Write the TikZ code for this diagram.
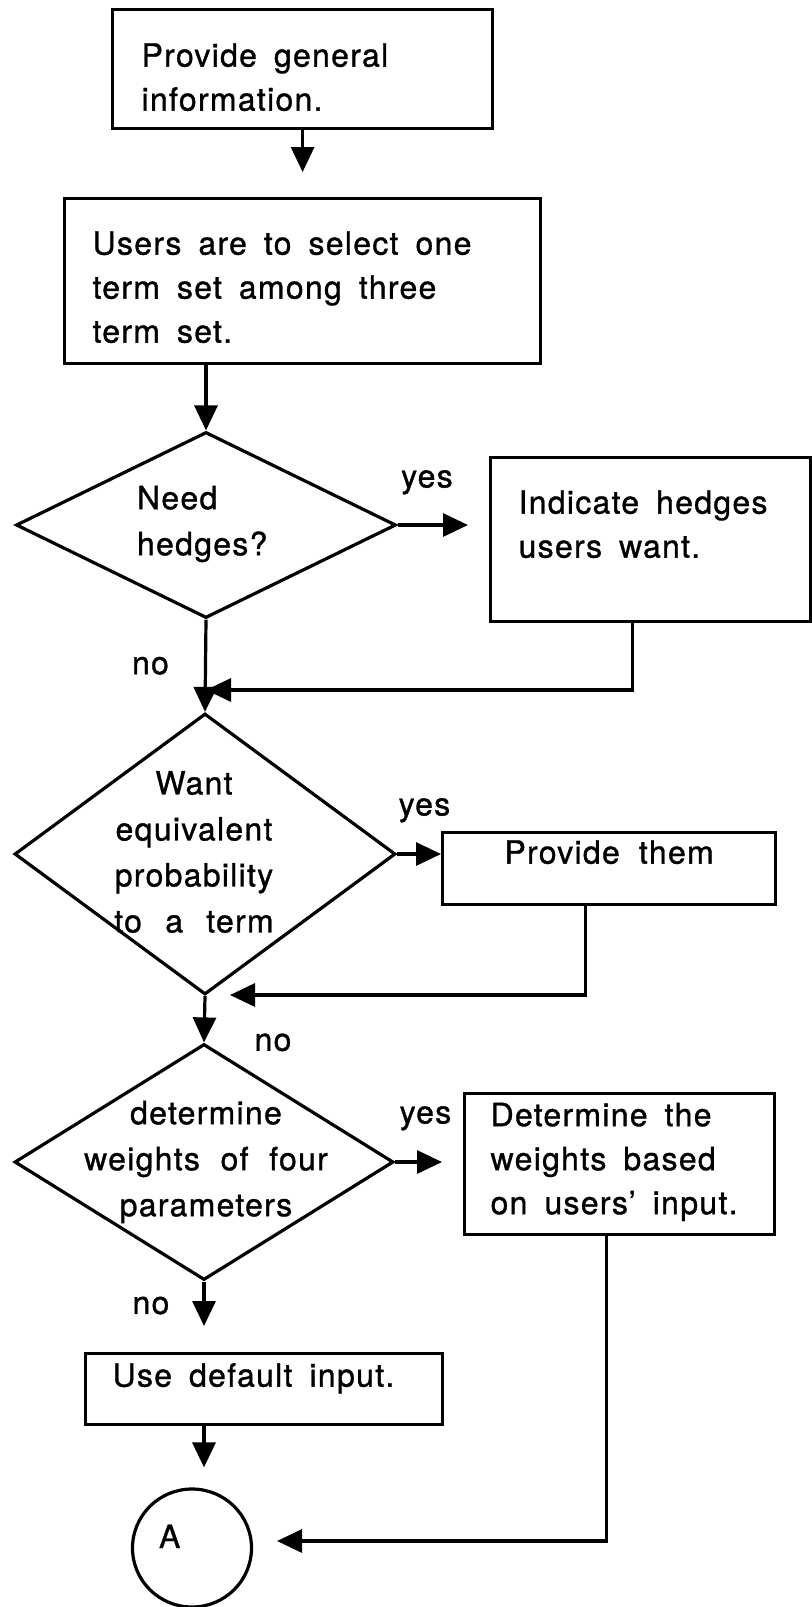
\documentclass[tikz,border=0pt]{standalone}
\usepackage{fontspec}
\setmainfont{TeX Gyre Heros}[LetterSpace=4,FakeBold=1]
\usepackage{tikz}
\usetikzlibrary{arrows.meta,positioning,shapes.geometric}
\newcommand{\flowfont}{\fontsize{16}{22}\selectfont}
\newcommand{\askfont}{\fontsize{16}{23}\selectfont}
\newcommand{\widespace}{\spaceskip=8.5pt plus 2pt minus 1pt\relax}
\tikzset{
  process/.style={draw, line width=1.6pt, anchor=north west, align=left,
    inner ysep=0pt, font=\flowfont, execute at begin node=\widespace},
  decision/.style={draw, line width=1.6pt, diamond, inner sep=0pt},
  question/.style={inner sep=0pt, font=\askfont, execute at begin node=\widespace},
  connector/.style={draw, line width=1.6pt, ellipse, inner sep=0pt,
    minimum width=59.5pt, minimum height=59pt, font=\flowfont},
  wire/.style={-{Triangle[length=12.5pt, width=11.5pt]}, line width=1.6pt},
  answer/.style={inner sep=0pt, font=\flowfont}
}

\begin{document}
\begin{tikzpicture}[x=0.5pt, y=-0.5pt]
  \useasboundingbox (0,0) rectangle (811,1607);
  % main column
  \node[process, inner xsep=14.5pt, text width=161pt, text height=28.5pt, text depth=31pt]
    (info) at (111,8) {Provide general\\information.};
  \node[process, inner xsep=14pt, text width=210pt, text height=28pt, text depth=54.5pt]
    (termset) at (63,197) {Users are to select one\\term set among three\\term set.};
  \node[decision, minimum width=190pt, minimum height=93pt] (hedges) at (206,525) {};
  \node[question, align=left, text width=70pt] (hedgesq) at (207,524) {Need\\hedges?};
  \node[decision, minimum width=190.5pt, minimum height=140.5pt] (equiv) at (205,854) {};
  \node[question, align=center, text width=180pt] (equivq) at (194,852)
    {Want\\equivalent\\probability\\to a term};
  \node[decision, minimum width=189.5pt, minimum height=118pt] (weights) at (204,1162) {};
  \node[question, align=center, text width=180pt] (weightsq) at (206,1162)
    {determine\\weights of four\\parameters};
  \node[process, inner xsep=13.5pt, text width=151.5pt, text height=16.5pt, text depth=19pt]
    (defaultbox) at (84,1352) {Use default input.};
  \node[connector, align=left, text width=33pt, text height=11.8pt, text depth=11.8pt]
    (connA) at (192,1548) {A};
  % side boxes
  \node[process, inner xsep=14pt, text width=132pt, text height=28pt, text depth=54pt]
    (hedgebox) at (489,456) {Indicate hedges\\users want.};
  \node[process, align=center, inner xsep=14pt, text width=138.5pt, text height=15.5pt, text depth=20.5pt]
    (providebox) at (441,831) {Provide them};
  \node[process, inner xsep=13pt, text width=129pt, text height=16.25pt, text depth=54.25pt]
    (weightbox) at (463,1092) {Determine the\\weights based\\on users' input.};
  \coordinate (merge1) at (206,690);
  \coordinate (merge2) at (230,995);
  \coordinate (merge3) at (277,1541);

  % connectors
  \draw[wire, shorten >=12.5pt] (info.south) -- (termset.north);
  \draw[wire] (termset.south -| hedges.north) -- (hedges.north);
  \draw[wire, shorten >=10.5pt] (hedges.east) -- (hedges.east -| hedgebox.west)
    node[answer, pos=0, above right=14.5pt and 1pt] (yes1) {yes};
  \draw[wire] ([xshift=-9pt]hedgebox.south) |- (merge1);
  \draw[wire] (hedges.south) -- (equiv.north)
    node[answer, pos=0.5, left=17.5pt] (no1) {no};
  \draw[wire] (equiv.east) -- (equiv.east -| providebox.west)
    node[answer, pos=0, above right=15pt and 0pt] (yes2) {yes};
  \draw[wire] ([xshift=-11.75pt]providebox.south) |- (merge2);
  \draw[wire] (equiv.south) -- (weights.north)
    node[answer, pos=1, right=24.5pt] (no2) {no};
  \draw[wire, shorten >=10.5pt] (weights.east) -- (weights.east -| weightbox.west)
    node[answer, pos=0, above right=15pt and 1.5pt] (yes3) {yes};
  \draw[wire] ([xshift=-6.5pt]weightbox.south) |- (merge3);
  \draw[wire, shorten >=13pt] (weights.south) -- (defaultbox.north -| weights.south)
    node[answer, pos=0.34, left=16.5pt] (no3) {no};
  \draw[wire, shorten >=10pt] (defaultbox.south -| weights.south) -- (connA.north -| weights.south);
\end{tikzpicture}
\end{document}
